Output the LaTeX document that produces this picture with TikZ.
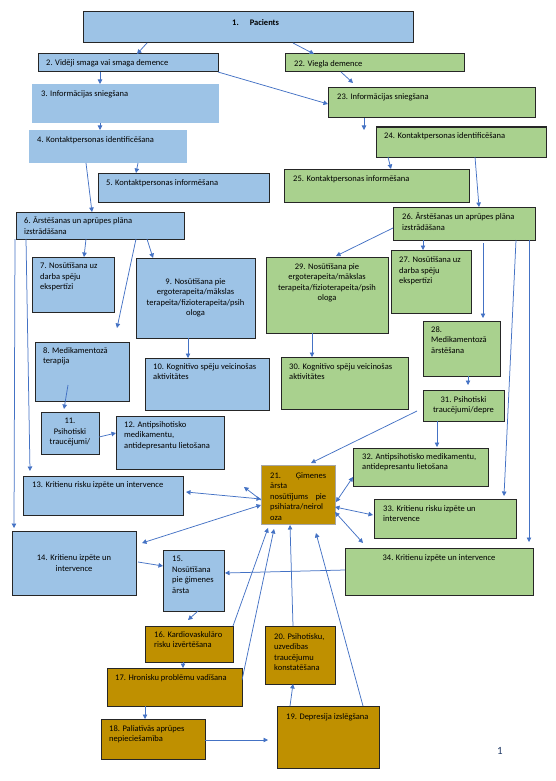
\documentclass[tikz,border=0pt]{standalone}
\usepackage{fontspec}
\setmainfont{Carlito}
\usetikzlibrary{arrows.meta}
\definecolor{cblue}{HTML}{9DC3E6}
\definecolor{cgreen}{HTML}{A9D18E}
\definecolor{cgold}{HTML}{BF9000}
\definecolor{cline}{HTML}{4472C4}
\definecolor{cedge}{HTML}{262626}
\definecolor{cgrey}{HTML}{A6A6A6}
\definecolor{cnum}{HTML}{1F3864}
\newcommand\boxfont{\fontsize{8.5}{10.5}\selectfont}
\begin{document}
\begin{tikzpicture}[x=1pt,y=-1pt,>={Triangle[length=4.5pt,width=4.5pt]},font=\boxfont]
\tikzset{box/.style={rectangle,anchor=north west,inner sep=0pt,outer sep=0pt,line width=1pt},
	txt/.style={anchor=north west,inner sep=0pt,align=left},
	txc/.style={anchor=north,inner sep=0pt,align=center},
	arr/.style={cline,line width=0.75pt,->},
	arrs/.style={cline,line width=0.75pt,<->}}
\useasboundingbox (0,0) rectangle (556,781);
% boxes: name/x/y/width/height/fill/border
\foreach \n/\xa/\ya/\w/\h/\f/\d in {b1/83/12/330/31/cblue/cedge,b2/38/54/180/18/cblue/cedge,
	b3/32/84/187/39/cblue/none,b4/29/130/158/33/cblue/none,b5/98/173/171/29/cblue/cedge,
	b6/16/212/168/27/cblue/cedge,b7/32/257/82/55/cblue/cedge,b9/136/258/119/80/cblue/cedge,
	b8/35/342/94/59/cblue/cedge,b10/145/358/124/52/cblue/cedge,b11/41/412/58/42/cblue/cedge,
	b12/116/416/108/53/cblue/cedge,b13/23/476/160/39/cblue/cedge,b14/12/531/124/64/cblue/cedge,
	b15/163/550/61/61/cblue/cedge,b16/145/626/88/36/cgold/cedge,b17/107/668/135/38/cgold/cedge,
	b18/101/719/104/40/cgold/cedge,b19/277/706/102/62/cgold/cedge,b20/265/626/70/58/cgold/cedge,
	b21/261/465/74/59/cgold/cgrey,b22/285/54/179/18/cgreen/cedge,b23/328/88/207/30/cgreen/cedge,
	b24/376/127/170/30/cgreen/cedge,b25/284/169/185/33/cgreen/cedge,b26/393/207/142/33/cgreen/cedge,
	b27/391/250/80/63/cgreen/cedge,b29/266/257/122/76/cgreen/cedge,b28/423/321/77/55/cgreen/cedge,
	b30/281/357/127/52/cgreen/cedge,b31/423/390/81/31/cgreen/cedge,b32/353/448/135/38/cgreen/cedge,
	b33/374/499/142/39/cgreen/cedge,b34/345/548/188/47/cgreen/cedge}{
	\node[box,fill=\f,draw=\d,minimum width=\w,minimum height=\h] (\n) at (\xa,\ya) {};}
% texts
\node[anchor=west,inner sep=0pt,font=\boxfont\bfseries] at ([shift={(149,11)}]b1.north west) {1.\hspace{11pt}Pacients};
\node[txt] at ([shift={(8,5)}]b2.north west) {2. Vidēji smaga vai smaga demence};
\node[txt] at ([shift={(9,6)}]b3.north west) {3. Informācijas sniegšana};
\node[txt] at ([shift={(8,6)}]b4.north west) {4. Kontaktpersonas identificēšana};
\node[txt] at ([shift={(8,6)}]b5.north west) {5. Kontaktpersonas informēšana};
\node[txt] at ([shift={(8,5)}]b6.north west) {6. Ārstēšanas un aprūpes plāna\\izstrādāšana};
\node[txt] at ([shift={(8,6)}]b7.north west) {7. Nosūtīšana uz\\darba spēju\\ekspertīzi};
\node[txt] at ([shift={(8,5)}]b8.north west) {8. Medikamentozā\\terapija};
\node[inner sep=0pt,align=center] at (b9.center) {9. Nosūtīšana pie\\ergoterapeita/mākslas\\terapeita/fizioterapeita/psih\\ologa};
\node[txt] at ([shift={(8,5)}]b10.north west) {10. Kognitīvo spēju veicinošas\\aktivitātes};
\node[txc] at ([shift={(0,6)}]b11.north) {11.\\Psihotiski\\traucējumi/};
\node[txt] at ([shift={(8,5)}]b12.north west) {12. Antipsihotisko\\medikamentu,\\antidepresantu lietošana};
\node[txt] at ([shift={(9,5)}]b13.north west) {13. Kritienu risku izpēte un intervence};
\node[inner sep=0pt,align=center] at (b14.center) {14. Kritienu izpēte un\\intervence};
\node[txt] at ([shift={(9,6)}]b15.north west) {15.\\Nosūtīšana\\pie ģimenes\\ārsta};
\node[txt] at ([shift={(9,5)}]b16.north west) {16. Kardiovaskulāro\\risku izvērtēšana};
\node[txt] at ([shift={(8,6)}]b17.north west) {17. Hronisku problēmu vadīšana};
\node[txt] at ([shift={(8,6)}]b18.north west) {18. Paliatīvās aprūpes\\nepieciešamība};
\node[txt] at ([shift={(9,7)}]b19.north west) {19. Depresija izslēgšana};
\node[txt] at ([shift={(9,7)}]b20.north west) {20. Psihotisku,\\uzvedības\\traucējumu\\konstatēšana};
\node[txt,text width=56pt] at ([shift={(9,7)}]b21.north west) {21.\hfill Ģimenes\\ārsta\\nosūtījums\hfill pie\\psihiatra/neirol\\oza};
\node[txt] at ([shift={(9,6)}]b22.north west) {22. Viegla demence};
\node[txt] at ([shift={(9,5)}]b23.north west) {23. Informācijas sniegšana};
\node[txt] at ([shift={(8,5)}]b24.north west) {24. Kontaktpersonas identificēšana};
\node[txt] at ([shift={(9,6)}]b25.north west) {25. Kontaktpersonas informēšana};
\node[txt] at ([shift={(9,6)}]b26.north west) {26. Ārstēšanas un aprūpes plāna\\izstrādāšana};
\node[txt] at ([shift={(8,7)}]b27.north west) {27. Nosūtīšana uz\\darba spēju\\ekspertīzi};
\node[txt] at ([shift={(8,5)}]b28.north west) {28.\\Medikamentozā\\ārstēšana};
\node[txc] at ([shift={(0,6)}]b29.north) {29. Nosūtīšana pie\\ergoterapeita/mākslas\\terapeita/fizioterapeita/psih\\ologa};
\node[txt] at ([shift={(8,6)}]b30.north west) {30. Kognitīvo spēju veicinošas\\aktivitātes};
\node[txc] at ([shift={(0,6)}]b31.north) {31. Psihotiski\\traucējumi/depre};
\node[txt] at ([shift={(9,5)}]b32.north west) {32. Antipsihotisko medikamentu,\\antidepresantu lietošana};
\node[txt] at ([shift={(9,6)}]b33.north west) {33. Kritienu risku izpēte un\\intervence};
\node[txc] at ([shift={(0,6)}]b34.north) {34. Kritienu izpēte un intervence};
\node[cnum,font=\fontsize{11}{13}\selectfont] (pg) at (500,751) {1};
% connectors, left branch
\draw[arr] ([shift={(64,31)}]b1.north west) -- ([shift={(99,0)}]b2.north west);
\draw[arr] ([shift={(210,31)}]b1.north west) -- ([shift={(29,0)}]b22.north west);
\draw[arr] ([shift={(62,18)}]b2.north west) -- ([shift={(68,0)}]b3.north west);
\draw[arr] (b2.south east) -- ([shift={(0,16)}]b23.north west);
\draw[arr] ([shift={(68,39)}]b3.north west) -- ([shift={(71,0)}]b4.north west);
\draw[arr] ([shift={(109,33)}]b4.north west) -- ([shift={(38,0)}]b5.north west);
\draw[arr] ([shift={(57,33)}]b4.north west) -- ([shift={(76,0)}]b6.north west);
\draw[arr] ([shift={(70,27)}]b6.north west) -- ([shift={(52,0)}]b7.north west);
\draw[arr] ([shift={(131,27)}]b6.north west) -- ([shift={(17,0)}]b9.north west);
\draw[arr] ([shift={(120,27)}]b6.north west) -- ([shift={(82,-14)}]b8.north west);
\draw[arr] ([shift={(-1,27)}]b6.north west) -- ([shift={(2,-3)}]b14.north west);
\draw[arr] ([shift={(10,27)}]b6.north west) -- ([shift={(7,-5)}]b13.north west);
\draw[arr] ([shift={(52,80)}]b9.north west) -- ([shift={(43,0)}]b10.north west);
\draw[arr] ([shift={(33,43)}]b8.north west) -- ([shift={(23,-3)}]b11.north west);
\draw[arr] ([shift={(58,25)}]b11.north west) -- ([shift={(0,17)}]b12.north west);
\draw[arrs] ([shift={(3,16)}]b13.north east) -- ([shift={(0,34)}]b21.north west);
\draw[arr] ([shift={(0,35)}]b21.north west) -- ([shift={(-17,22)}]b21.north west);
\draw[arrs] ([shift={(6,12)}]b14.north east) -- ([shift={(0,40)}]b21.north west);
\draw[arr] ([shift={(2,31)}]b14.north east) -- ([shift={(0,16)}]b15.north west);
\draw[arr] ([shift={(0,22)}]b34.north west) -- ([shift={(62,23)}]b15.north west);
\draw[arr] ([shift={(35,61)}]b15.north west) -- ([shift={(43,-6)}]b16.north west);
\draw[arr] ([shift={(38,36)}]b16.north west) -- ([shift={(76,0)}]b17.north west);
\draw[arr] ([shift={(38,38)}]b17.north west) -- ([shift={(44,0)}]b18.north west);
\draw[arr] ([shift={(104,21)}]b18.north west) -- ([shift={(-9,34)}]b19.north west);
\draw[arr] ([shift={(13,0)}]b19.north west) -- ([shift={(28,58)}]b20.north west);
% into 21 from below
\draw[arr] (b16.north east) -- ([shift={(7,63)}]b21.north west);
\draw[arr] ([shift={(135,12)}]b17.north west) -- ([shift={(13,64)}]b21.north west);
\draw[arr] ([shift={(28,0)}]b20.north west) -- ([shift={(29,60)}]b21.north west);
\draw[arr] ([shift={(86,0)}]b19.north west) -- ([shift={(55,68)}]b21.north west);
% right branch
\draw[arr] ([shift={(56,18)}]b22.north west) -- ([shift={(25,-5)}]b23.north west);
\draw[arr] ([shift={(36,30)}]b23.north west) -- ([shift={(-12,3)}]b24.north west);
\draw[arr] ([shift={(12,30)}]b24.north west) -- ([shift={(107,0)}]b25.north west);
\draw[arr] ([shift={(99,30)}]b24.north west) -- ([shift={(86,0)}]b26.north west);
\draw[arr] ([shift={(0,21)}]b26.north west) -- ([shift={(70,-1)}]b29.north west);
\draw[arr] ([shift={(30,33)}]b26.north west) -- ([shift={(32,0)}]b27.north west);
\draw[arr] ([shift={(90,36)}]b26.north west) -- ([shift={(60,-3)}]b28.north west);
\draw[arr] ([shift={(123,33)}]b26.north west) -- ([shift={(130,-3)}]b33.north west);
\draw[arr] ([shift={(136,33)}]b26.north west) -- ([shift={(184,-6)}]b34.north west);
\draw[arr] ([shift={(45,55)}]b28.north west) -- ([shift={(45,-5)}]b31.north west);
\draw[arr] ([shift={(14,31)}]b31.north west) -- ([shift={(84,-1)}]b32.north west);
\draw[arr] ([shift={(46,76)}]b29.north west) -- ([shift={(31,0)}]b30.north west);
\draw[arr] ([shift={(-6,21)}]b31.north west) -- ([shift={(50,-2)}]b21.north west);
\draw[arrs] ([shift={(75,37)}]b21.north west) -- ([shift={(0,29)}]b32.north west);
\draw[arrs] ([shift={(74,42)}]b21.north west) -- ([shift={(-1,16)}]b33.north west);
\draw[arrs] ([shift={(74,47)}]b21.north west) -- ([shift={(18,-5)}]b34.north west);
\end{tikzpicture}
\end{document}
